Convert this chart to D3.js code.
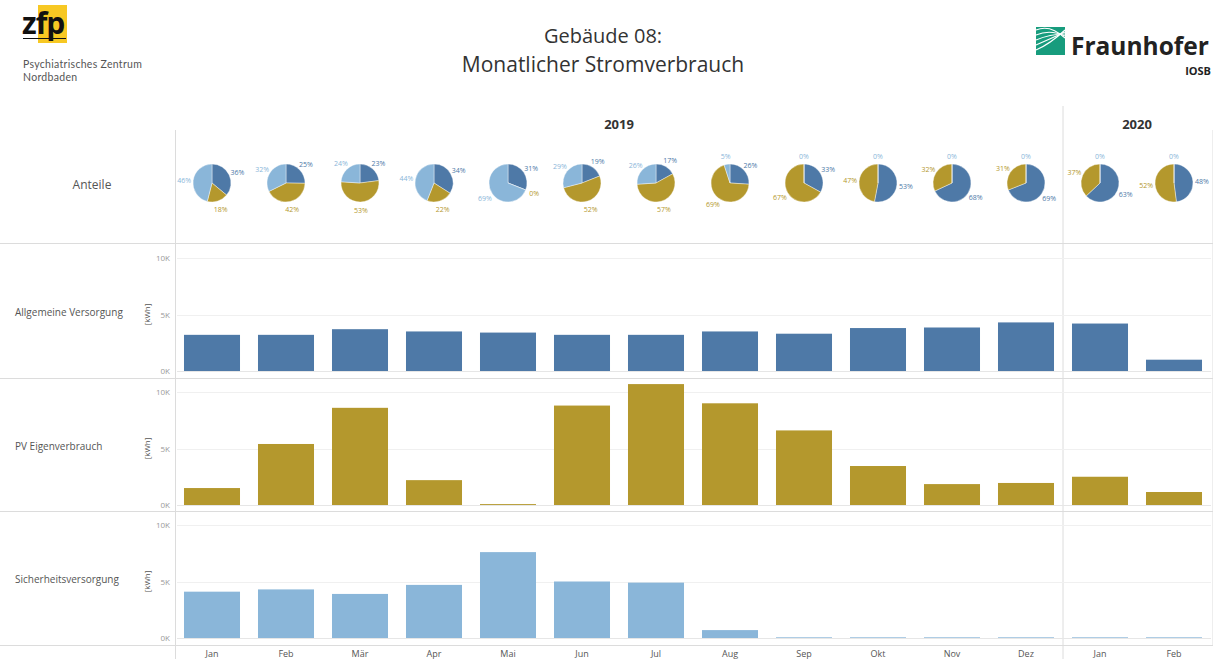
<!DOCTYPE html>
<html lang="de">
<head>
<meta charset="UTF-8">
<title>Gebäude 08: Monatlicher Stromverbrauch</title>
<style>
  body { margin: 0; background: #fff; }
  svg { font-family: "Open Sans", "Noto Sans", sans-serif; }
</style>
</head>
<body>
<svg id="chart" width="1221" height="659"></svg>
<script src="https://d3js.org/d3.v7.min.js"></script>
<script>
// months / years of the columns
const months = ["Jan", "Feb", "Mär", "Apr", "Mai", "Jun", "Jul", "Aug", "Sep", "Okt", "Nov", "Dez", "Jan", "Feb"];
const years = [2019, 2019, 2019, 2019, 2019, 2019, 2019, 2019, 2019, 2019, 2019, 2019, 2020, 2020];

// monthly consumption in kWh
const allgemein = [3200, 3200, 3700, 3500, 3400, 3200, 3200, 3500, 3300, 3800, 3850, 4300, 4200, 1000];
const pvEigen = [1500, 5400, 8600, 2200, 80, 8800, 10700, 9000, 6600, 3450, 1850, 1950, 2500, 1150];
const sicherheit = [4100, 4300, 3900, 4700, 7600, 5000, 4900, 700, 60, 60, 60, 60, 60, 60];

// shares shown in the pies (percent labels)
const shareAllg = [36, 25, 23, 34, 31, 19, 17, 26, 33, 53, 68, 69, 63, 48];
const sharePV = [18, 42, 53, 22, 0, 52, 57, 69, 67, 47, 32, 31, 37, 52];
const shareSich = [46, 32, 24, 44, 69, 29, 26, 5, 0, 0, 0, 0, 0, 0];

const rowNames = ["Allgemeine Versorgung", "PV Eigenverbrauch", "Sicherheitsversorgung"];
const yTicks = [0, 5000, 10000];

const colAllg = "#4e79a7", colPV = "#b4982d", colSich = "#8ab6d9";
const lineCol = "#dcdcdc", textCol = "#555";

const svg = d3.select("#chart");

const keys = months.map((m, i) => i);
const x = d3.scaleBand().domain(keys).range([175, 1211]).paddingInner(0.243).paddingOuter(0.1215);

// --- header: logos + title
const zfp = svg.append("g");
zfp.append("rect").attr("x", 38).attr("y", 5).attr("width", 29).attr("height", 38).attr("fill", "#f7c823");
zfp.append("text").attr("x", 22).attr("y", 34).attr("font-size", 30).attr("font-weight", "bold")
  .attr("fill", "#111").attr("letter-spacing", -1).text("zfp");
zfp.append("line").attr("x1", 23).attr("x2", 66).attr("y1", 38.5).attr("y2", 38.5).attr("stroke", "#111").attr("stroke-width", 1.2);
zfp.append("text").attr("x", 23).attr("y", 67.5).attr("font-size", 10.5).attr("font-family", "Lato, sans-serif")
  .attr("letter-spacing", 0.3).attr("fill", textCol).text("Psychiatrisches Zentrum");
zfp.append("text").attr("x", 23).attr("y", 80.5).attr("font-size", 10.5).attr("font-family", "Lato, sans-serif")
  .attr("letter-spacing", 0.3).attr("fill", textCol).text("Nordbaden");

const fh = svg.append("g");
fh.append("rect").attr("x", 1036).attr("y", 27).attr("width", 29).attr("height", 28).attr("fill", "#179c7d");
[0, 1, 2, 3, 4].forEach(i => {
  fh.append("path")
    .attr("d", `M1036,${50 - i * 5} Q1050,${44 - i * 5} 1065,${30 + i * 2}`)
    .attr("fill", "none").attr("stroke", "#fff").attr("stroke-width", 1.1);
});
fh.append("text").attr("x", 1071).attr("y", 55).attr("font-size", 24.5).attr("font-weight", "bold")
  .attr("fill", "#222").text("Fraunhofer");
fh.append("text").attr("x", 1211).attr("y", 75).attr("text-anchor", "end").attr("font-size", 11)
  .attr("font-weight", "bold").attr("fill", "#222").text("IOSB");

svg.append("text").attr("x", 603).attr("y", 43).attr("text-anchor", "middle").attr("font-size", 20)
  .attr("fill", "#333").text("Gebäude 08:");
svg.append("text").attr("x", 603).attr("y", 72).attr("text-anchor", "middle").attr("font-size", 21)
  .attr("fill", "#333").text("Monatlicher Stromverbrauch");

// --- year headers
const yearList = [2019, 2020];
yearList.forEach(yr => {
  const idx = keys.filter(i => years[i] === yr);
  const x0 = x(idx[0]) - x.step() * x.paddingInner() / 2;
  const x1 = x(idx[idx.length - 1]) + x.bandwidth() + x.step() * x.paddingInner() / 2;
  svg.append("text").attr("x", (x0 + x1) / 2).attr("y", 129).attr("text-anchor", "middle")
    .attr("font-size", 13).attr("font-weight", "bold").attr("fill", "#333").text(yr);
});

// grid frame lines
const divX = x(12) - x.step() * x.paddingInner() / 2;
svg.append("line").attr("x1", 175.5).attr("x2", 175.5).attr("y1", 130).attr("y2", 659).attr("stroke", lineCol);
svg.append("line").attr("x1", divX).attr("x2", divX).attr("y1", 106).attr("y2", 659).attr("stroke", lineCol);
svg.append("line").attr("x1", 1212.5).attr("x2", 1212.5).attr("y1", 130).attr("y2", 645).attr("stroke", "#eee");
[243.5, 378.5, 511.5, 645.5].forEach(yy => {
  svg.append("line").attr("x1", 0).attr("x2", 1213).attr("y1", yy).attr("y2", yy).attr("stroke", lineCol);
});

// --- pies
svg.append("text").attr("x", 92).attr("y", 189).attr("text-anchor", "middle").attr("font-size", 12)
  .attr("fill", textCol).text("Anteile");

const pieR = 19;
const pie = d3.pie().sort(null).value(d => d.v);
const arc = d3.arc().innerRadius(0).outerRadius(pieR);
keys.forEach(i => {
  const cx = x(i) + x.bandwidth() / 2, cy = 183;
  const parts = [
    { v: shareAllg[i], c: colAllg },
    { v: sharePV[i], c: colPV },
    { v: shareSich[i], c: colSich }
  ];
  const g = svg.append("g").attr("transform", `translate(${cx},${cy})`);
  const arcs = pie(parts);
  g.selectAll("path").data(arcs).enter().append("path")
    .attr("d", arc).attr("fill", d => d.data.c)
    .attr("stroke", "#fff").attr("stroke-width", 0.4);
  g.selectAll("text").data(arcs).enter().append("text")
    .attr("x", d => Math.sin((d.startAngle + d.endAngle) / 2) * 28)
    .attr("y", d => -Math.cos((d.startAngle + d.endAngle) / 2) * 27 + 3)
    .attr("text-anchor", "middle")
    .attr("font-size", 7).attr("fill", d => d.data.c)
    .text(d => d.data.v + "%");
});

// --- bar panels
const series = [allgemein, pvEigen, sicherheit];
const colors = [colAllg, colPV, colSich];
const panelTop = [244, 378, 511];

series.forEach((vals, p) => {
  const top = panelTop[p];
  const y = d3.scaleLinear().domain([0, 10000]).range([top + 127, top + 14]);
  const g = svg.append("g");

  // faint gridlines
  g.selectAll("line.grid").data(yTicks).enter().append("line")
    .attr("x1", 177).attr("x2", 1211)
    .attr("y1", d => Math.round(y(d)) + 0.5).attr("y2", d => Math.round(y(d)) + 0.5)
    .attr("stroke", d => d === 0 ? "#e6e6e6" : "#f0f0f0");

  const axis = g.append("g").attr("transform", "translate(175,0)")
    .call(d3.axisLeft(y).tickValues(yTicks).tickSize(0).tickPadding(5).tickFormat(d => (d / 1000) + "K"));
  axis.select(".domain").remove();
  axis.selectAll("text").attr("font-size", 8).attr("fill", "#999").attr("font-family", "Open Sans, sans-serif");

  g.append("text").attr("transform", `translate(150,${y(5000)}) rotate(-90)`)
    .attr("text-anchor", "middle").attr("font-size", 8).attr("fill", textCol).text("[kWh]");

  g.append("text").attr("x", 15).attr("y", y(5000) + 1).attr("font-size", 10)
    .attr("fill", textCol).text(rowNames[p]);

  g.selectAll("rect").data(vals).enter().append("rect")
    .attr("x", (d, i) => x(i)).attr("width", x.bandwidth())
    .attr("y", d => y(d)).attr("height", d => y(0) - y(d))
    .attr("fill", colors[p]);
});

// --- month labels
svg.append("g").selectAll("text").data(keys).enter().append("text")
  .attr("x", i => x(i) + x.bandwidth() / 2).attr("y", 657).attr("text-anchor", "middle")
  .attr("font-size", 9).attr("fill", textCol).text(i => months[i]);
</script>
</body>
</html>
